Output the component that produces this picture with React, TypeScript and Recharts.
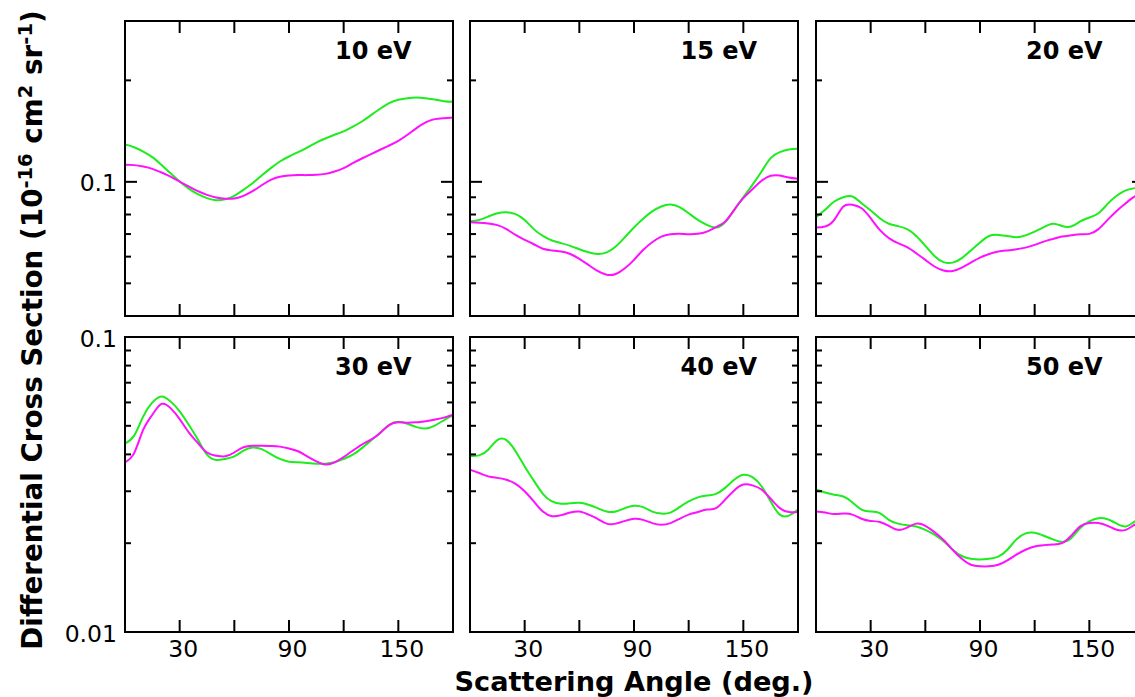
import React from 'react';
import { LineChart, Line, XAxis, YAxis } from 'recharts';

// ---------- data ----------
const angles = [0, 5, 10, 15, 20, 25, 30, 35, 40, 45, 50, 55, 60, 65, 70, 75, 80, 85, 90, 95, 100, 105, 110, 115, 120, 125, 130, 135, 140, 145, 150, 155, 160, 165, 170, 175, 180];

const energies = ['10 eV', '15 eV', '20 eV', '30 eV', '40 eV', '50 eV'];

const green10 = [0.129, 0.1267, 0.123, 0.1184, 0.1123, 0.1061, 0.1002, 0.0955, 0.0919, 0.0895, 0.0882, 0.0888, 0.0909, 0.0947, 0.0991, 0.1044, 0.1098, 0.1149, 0.1189, 0.1225, 0.1264, 0.1308, 0.1345, 0.1379, 0.1411, 0.1457, 0.151, 0.1577, 0.1647, 0.1712, 0.1751, 0.1771, 0.1779, 0.1771, 0.1755, 0.1735, 0.1727];
const magenta10 = [0.1123, 0.1121, 0.111, 0.1093, 0.1066, 0.1037, 0.1002, 0.0969, 0.0938, 0.0915, 0.0899, 0.0891, 0.0893, 0.0909, 0.0938, 0.0977, 0.1014, 0.1035, 0.1044, 0.1047, 0.1047, 0.1049, 0.1056, 0.1073, 0.1098, 0.1136, 0.1173, 0.1208, 0.1245, 0.1282, 0.1323, 0.1379, 0.1443, 0.15, 0.1535, 0.1545, 0.1552];

const green15 = [0.0764, 0.0771, 0.0789, 0.0807, 0.0813, 0.0802, 0.0771, 0.0724, 0.0691, 0.067, 0.0658, 0.0646, 0.0631, 0.0618, 0.0611, 0.0618, 0.0643, 0.0685, 0.0732, 0.0777, 0.0817, 0.0845, 0.0856, 0.0841, 0.0807, 0.0771, 0.0745, 0.0732, 0.0759, 0.0826, 0.0901, 0.098, 0.1073, 0.1176, 0.1225, 0.1247, 0.1253];
const magenta15 = [0.0759, 0.0756, 0.0752, 0.0744, 0.0724, 0.0696, 0.0673, 0.0653, 0.0633, 0.0626, 0.0621, 0.0611, 0.0591, 0.0567, 0.0544, 0.053, 0.0533, 0.0554, 0.0587, 0.0628, 0.0662, 0.0688, 0.0699, 0.0701, 0.0699, 0.0701, 0.0712, 0.0734, 0.0762, 0.0826, 0.0895, 0.0951, 0.1007, 0.1042, 0.1044, 0.103, 0.1021];

const green20 = [0.0786, 0.0826, 0.0874, 0.09, 0.0905, 0.0864, 0.0822, 0.078, 0.0751, 0.0739, 0.0724, 0.0691, 0.0646, 0.0603, 0.0578, 0.0576, 0.0594, 0.0626, 0.0661, 0.0691, 0.0696, 0.0691, 0.0685, 0.0694, 0.0712, 0.0734, 0.0751, 0.074, 0.0737, 0.0763, 0.0784, 0.0807, 0.086, 0.0909, 0.0943, 0.0958, 0.0964];
const magenta20 = [0.0732, 0.0737, 0.0771, 0.0845, 0.0855, 0.0835, 0.078, 0.072, 0.0681, 0.0658, 0.064, 0.0614, 0.0587, 0.0561, 0.0546, 0.0544, 0.0557, 0.0576, 0.0596, 0.0611, 0.0621, 0.0626, 0.0631, 0.0638, 0.065, 0.0665, 0.0677, 0.0688, 0.0694, 0.0699, 0.0701, 0.0724, 0.0771, 0.082, 0.0864, 0.0905, 0.0926];

const green30 = [0.0435, 0.0463, 0.0538, 0.06, 0.0629, 0.0605, 0.056, 0.0504, 0.0449, 0.0399, 0.0383, 0.0386, 0.0394, 0.0412, 0.0422, 0.0417, 0.0401, 0.0386, 0.0378, 0.0376, 0.0374, 0.0372, 0.0372, 0.0376, 0.0386, 0.0399, 0.042, 0.0446, 0.0473, 0.0504, 0.0516, 0.0508, 0.0495, 0.049, 0.0501, 0.0522, 0.0543];
const magenta30 = [0.0376, 0.0404, 0.0485, 0.0545, 0.0593, 0.0574, 0.0527, 0.0475, 0.0437, 0.0406, 0.0396, 0.0394, 0.0406, 0.0423, 0.0428, 0.0428, 0.0427, 0.0425, 0.0419, 0.041, 0.0394, 0.0379, 0.037, 0.0376, 0.0392, 0.0412, 0.0432, 0.0449, 0.0473, 0.0503, 0.0514, 0.0512, 0.0514, 0.0518, 0.0525, 0.0533, 0.0545];

const green40 = [0.0395, 0.0397, 0.0415, 0.0447, 0.0447, 0.041, 0.0364, 0.0326, 0.0294, 0.0277, 0.0272, 0.0273, 0.0274, 0.027, 0.0263, 0.0256, 0.0256, 0.0263, 0.0268, 0.0265, 0.0256, 0.0252, 0.0254, 0.0265, 0.0277, 0.0286, 0.029, 0.0294, 0.0308, 0.0328, 0.0341, 0.0335, 0.0312, 0.0277, 0.025, 0.0248, 0.026];
const magenta40 = [0.0355, 0.0346, 0.0337, 0.0333, 0.0328, 0.0318, 0.03, 0.0277, 0.0256, 0.0247, 0.0249, 0.0254, 0.0256, 0.025, 0.0242, 0.0233, 0.0233, 0.0238, 0.0242, 0.024, 0.0234, 0.0231, 0.0234, 0.0242, 0.025, 0.0255, 0.026, 0.0263, 0.0281, 0.0302, 0.0316, 0.0314, 0.0304, 0.0283, 0.0263, 0.0255, 0.0255];

const green50 = [0.0304, 0.0297, 0.0292, 0.0288, 0.0275, 0.026, 0.0256, 0.0253, 0.024, 0.0233, 0.023, 0.0228, 0.0222, 0.0214, 0.0203, 0.019, 0.0181, 0.0177, 0.0176, 0.0177, 0.018, 0.019, 0.0206, 0.0216, 0.0217, 0.0212, 0.0206, 0.0202, 0.0208, 0.0225, 0.0237, 0.0243, 0.0241, 0.0233, 0.0228, 0.0237, 0.0246];
const magenta50 = [0.0256, 0.0254, 0.0251, 0.0252, 0.025, 0.0242, 0.0238, 0.0236, 0.0229, 0.0222, 0.0226, 0.0233, 0.0229, 0.0218, 0.0205, 0.019, 0.0177, 0.0169, 0.0167, 0.0167, 0.0169, 0.0175, 0.0183, 0.019, 0.0195, 0.0197, 0.0198, 0.02, 0.0212, 0.0228, 0.0234, 0.0234, 0.0229, 0.0222, 0.0222, 0.0231, 0.0237];

const greens = [green10, green15, green20, green30, green40, green50];
const magentas = [magenta10, magenta15, magenta20, magenta30, magenta40, magenta50];

const xTicks = [30, 60, 90, 120, 150];
const xTickLabels = ['30', '', '90', '', '150'];

const topDomain = [0.04, 0.3];
const topTicks = [0.05, 0.06, 0.07, 0.08, 0.09, 0.1, 0.2];
const topTickLabels = ['', '', '', '', '', '0.1', ''];
const topMajor = [0.1];

const botDomain = [0.01, 0.1];
const botTicks = [0.01, 0.02, 0.03, 0.04, 0.05, 0.06, 0.07, 0.08, 0.09, 0.1];
const botTickLabels = ['0.01', '', '', '', '', '', '', '', '', '0.1'];
const botMajor = [0.01, 0.1];

// ---------- layout / style ----------
const FONT = '"DejaVu Sans", "Liberation Sans", sans-serif';
const GREEN = '#1eec1e';
const MAGENTA = '#ff10ff';
const COLS = [124.7, 470.2, 815.7];
const ROWS = [21, 337.3];
const PW = 328;
const PH = 295;
const ML = 70, MR = 20, MT = 20, MB = 40;
const MAJ = 12, MIN = 6;
const TICK_FS = 23.5;

function xTick(side: 'top' | 'bottom', labeled: boolean) {
  return (props: any) => {
    const { x, y, payload } = props;
    const v = payload.value;
    const dir = side === 'bottom' ? -1 : 1;
    const idx = xTicks.indexOf(v);
    const label = labeled && side === 'bottom' && idx >= 0 ? xTickLabels[idx] : '';
    return (
      <g>
        <line x1={x} y1={y} x2={x} y2={y + dir * MAJ} stroke="#000" strokeWidth={2} />
        {label ? (
          <text x={x + 3.5} y={y + 25} textAnchor="middle" fontSize={TICK_FS} fontFamily={FONT} fill="#000">{label}</text>
        ) : null}
      </g>
    );
  };
}

function yTick(side: 'left' | 'right', ticks: number[], labels: string[], major: number[], labeled: boolean) {
  return (props: any) => {
    const { x, y, payload } = props;
    const v = payload.value;
    const dir = side === 'left' ? 1 : -1;
    const len = major.includes(v) ? MAJ : MIN;
    const idx = ticks.indexOf(v);
    const label = labeled && side === 'left' && idx >= 0 ? labels[idx] : '';
    return (
      <g>
        <line x1={x} y1={y} x2={x + dir * len} y2={y} stroke="#000" strokeWidth={2} />
        {label ? (
          <text x={x - 8} y={y + 9.5} textAnchor="end" fontSize={TICK_FS} fontFamily={FONT} fill="#000">{label}</text>
        ) : null}
      </g>
    );
  };
}

function Panel({ index }: { index: number }) {
  const row = Math.floor(index / 3);
  const col = index % 3;
  const isTop = row === 0;
  const data = angles.map((a, i) => ({ a, g: greens[index][i], m: magentas[index][i] }));
  const domain = isTop ? topDomain : botDomain;
  const ticks = isTop ? topTicks : botTicks;
  const labels = isTop ? topTickLabels : botTickLabels;
  const major = isTop ? topMajor : botMajor;
  const axisLine = { stroke: '#000', strokeWidth: 2, strokeLinecap: 'square' as const };
  return (
    <div style={{ position: 'absolute', left: COLS[col] - ML, top: ROWS[row] - MT }}>
      <LineChart width={ML + PW + MR} height={MT + PH + MB} data={data} margin={{ top: 0, right: 0, bottom: 0, left: 0 }}>
        <XAxis xAxisId="b" dataKey="a" type="number" domain={[0, 180]} ticks={xTicks} interval={0} orientation="bottom" height={MB} tickSize={0} tickMargin={0} axisLine={axisLine} tickLine={false} tick={xTick('bottom', !isTop)} allowDataOverflow />
        <XAxis xAxisId="t" dataKey="a" type="number" domain={[0, 180]} ticks={xTicks} interval={0} orientation="top" height={MT} tickSize={0} tickMargin={0} axisLine={axisLine} tickLine={false} tick={xTick('top', false)} allowDataOverflow />
        <YAxis yAxisId="l" type="number" scale="log" domain={domain} ticks={ticks} interval={0} orientation="left" width={ML} tickSize={0} tickMargin={0} axisLine={axisLine} tickLine={false} tick={yTick('left', ticks, labels, major, col === 0)} allowDataOverflow />
        <YAxis yAxisId="r" type="number" scale="log" domain={domain} ticks={ticks} interval={0} orientation="right" width={MR} tickSize={0} tickMargin={0} axisLine={axisLine} tickLine={false} tick={yTick('right', ticks, labels, major, false)} allowDataOverflow />
        <Line xAxisId="b" yAxisId="l" dataKey="g" type="natural" stroke={GREEN} strokeWidth={2} dot={false} isAnimationActive={false} />
        <Line xAxisId="t" yAxisId="r" dataKey="m" type="natural" stroke={MAGENTA} strokeWidth={2} dot={false} isAnimationActive={false} />
      </LineChart>
    </div>
  );
}

export default function App() {
  return (
    <div style={{ position: 'fixed', left: 0, top: 0, width: 1135, height: 697, overflow: 'hidden', background: '#fff' }}>
      {[0, 1, 2, 3, 4, 5].map((i) => (
        <Panel key={i} index={i} />
      ))}
      <svg width={1135} height={697} style={{ position: 'absolute', left: 0, top: 0, pointerEvents: 'none' }}>
        {energies.map((e, i) => {
          const row = Math.floor(i / 3);
          const col = i % 3;
          return (
            <text key={e} x={COLS[col] + PW - 41} y={ROWS[row] + 38} textAnchor="end" fontSize={24} fontWeight="bold" fontFamily={FONT} fill="#000">{e}</text>
          );
        })}
        <text x={634} y={691} textAnchor="middle" fontSize={27.2} fontWeight="bold" fontFamily={FONT} fill="#000">Scattering Angle (deg.)</text>
        <text transform="translate(42, 330) rotate(-90)" textAnchor="middle" fontSize={27.8} fontWeight="bold" fontFamily={FONT} fill="#000">
          Differential Cross Section (10<tspan dy={-10} fontSize={19.5}>-16</tspan><tspan dy={10}> cm</tspan><tspan dy={-10} fontSize={19.5}>2</tspan><tspan dy={10}> sr</tspan><tspan dy={-10} fontSize={19.5}>-1</tspan><tspan dy={10}>)</tspan>
        </text>
      </svg>
    </div>
  );
}
